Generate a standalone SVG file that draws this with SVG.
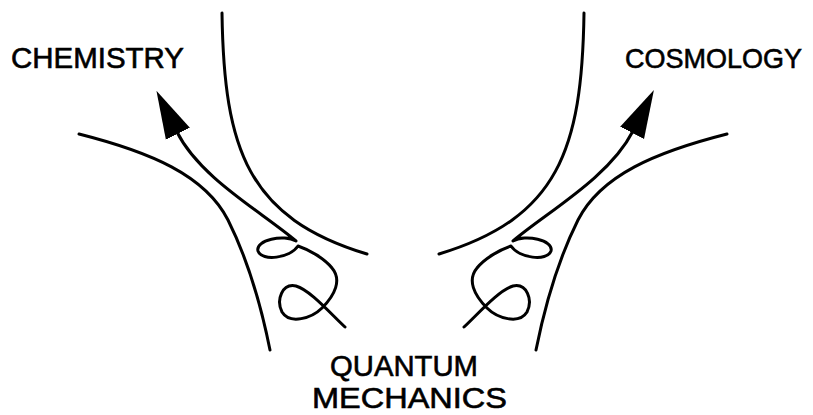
<svg xmlns="http://www.w3.org/2000/svg" width="813" height="415" viewBox="0 0 813 415">
  <style>
    .line { fill: none; stroke: #000; stroke-width: 3; stroke-linecap: round; stroke-linejoin: round; }
    .label { font-family: "Liberation Sans", Arial, sans-serif; fill: #000; stroke: #000; stroke-width: 0.6; }
  </style>
  <defs>
    <marker id="head" markerUnits="userSpaceOnUse" markerWidth="52" markerHeight="30" viewBox="0 -15 52 30" refX="2" refY="0" orient="auto">
      <path d="M0,-13.4 L48,0 L0,13.4 Z" fill="#000"/>
    </marker>
  </defs>
  <rect width="813" height="415" fill="#fff"/>

  <g id="boundaries">
    <path class="line" d="M222,13 C224,150 248,218 367,254"/>
    <path class="line" d="M584,13 C582,150 558,218 439,254"/>
    <path class="line" d="M79,134 C150,152 205,175 228,220 C248,260 262,310 270,350"/>
    <path class="line" d="M727,134 C656,152 601,175 578,220 C558,260 544,310 536,350"/>
  </g>

  <g id="connectors">
    <path id="to-chemistry" class="line" marker-end="url(#head)" d="M345,327 C330,313 310,290 296,286 C282,283 276,300 282,312 C290,325 312,318 322,308 C335,295 342,280 332,268 C325,259 310,250 298,246 C290,258 262,262 258,251 C255,240 284,234 296,241 C262,212 200,178 177,132"/>
    <path id="to-cosmology" class="line" marker-end="url(#head)" d="M464,327 C479,313 499,290 513,286 C527,283 533,300 527,312 C519,325 497,318 487,308 C474,295 467,280 477,268 C484,259 499,250 511,246 C519,258 547,262 551,251 C554,240 525,234 513,241 C547,212 609,178 633,131"/>
  </g>

  <g id="chemistry">
    <text class="label" x="11" y="68" font-size="29" textLength="173" lengthAdjust="spacingAndGlyphs">CHEMISTRY</text>
  </g>
  <g id="cosmology">
    <text class="label" x="625" y="68" font-size="28" textLength="177" lengthAdjust="spacingAndGlyphs">COSMOLOGY</text>
  </g>
  <g id="quantum-mechanics">
    <text class="label" x="330" y="376" font-size="30" textLength="148" lengthAdjust="spacingAndGlyphs">QUANTUM</text>
    <text class="label" x="312" y="408" font-size="29" textLength="195" lengthAdjust="spacingAndGlyphs">MECHANICS</text>
  </g>
</svg>
